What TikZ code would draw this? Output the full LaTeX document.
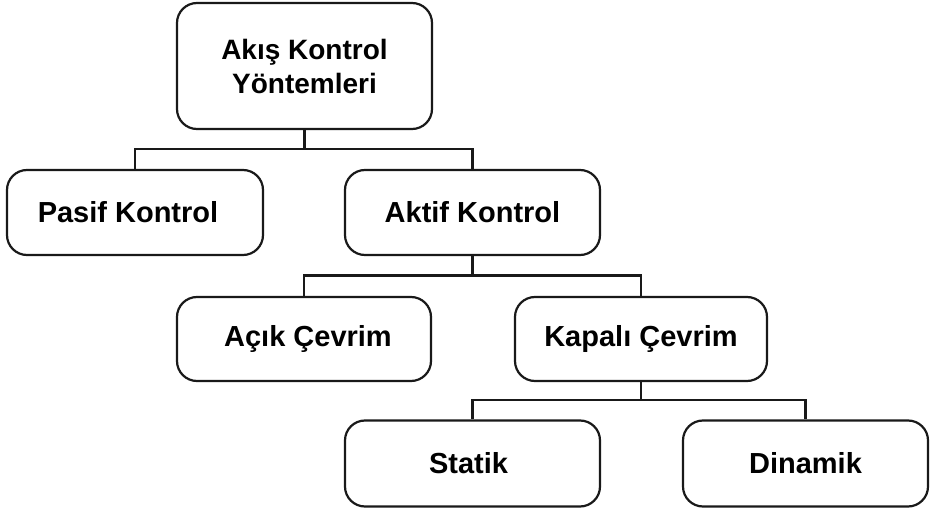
\documentclass[tikz,border=0pt]{standalone}
\usepackage{fontspec}
\setmainfont{Liberation Sans}
\begin{document}
\begin{tikzpicture}[x=1pt,y=-1pt,
  box/.style={draw=black!90, line width=2.2pt, rounded corners=20pt, align=center,
    inner sep=0pt, font=\bfseries\fontsize{29}{34}\selectfont},
  topbox/.style={box, font=\bfseries\fontsize{28}{34}\selectfont},
  conn/.style={draw=black!90, line width=2.2pt}]
\useasboundingbox (0,0) rectangle (930,513);
\node[topbox, minimum width=255pt, minimum height=126pt] (top) at (304.5,66) {\textbf{Akış Kontrol}\\\textbf{Yöntemleri}};
\node[box, minimum width=256pt, minimum height=85pt] (pasif) at (135,212.5) {\kern-14pt Pasif Kontrol};
\node[box, minimum width=255pt, minimum height=85pt] (aktif) at (472.5,212.5) {Aktif Kontrol};
\node[box, minimum width=254pt, minimum height=84pt] (acik) at (304,339) {\kern8pt Açık Çevrim};
\node[box, minimum width=252pt, minimum height=84pt] (kapali) at (641,339) {Kapalı Çevrim};
\node[box, minimum width=255pt, minimum height=86pt] (statik) at (472.5,463.5) {\kern-8pt Statik};
\node[box, minimum width=245pt, minimum height=86pt] (dinamik) at (805.5,463.5) {Dinamik};
\coordinate (j1) at (304.5,149);
\coordinate (j2) at (472.5,275.5);
\coordinate (j3) at (641,400);
\draw[conn] (top.south) -- (j1);
\draw[conn] (pasif.north) -- (pasif.north |- j1) -- (aktif.north |- j1) -- (aktif.north);
\draw[conn] (aktif.south) -- (j2);
\draw[conn] (acik.north) -- (acik.north |- j2) -- (kapali.north |- j2) -- (kapali.north);
\draw[conn] (kapali.south) -- (j3);
\draw[conn] (statik.north) -- (statik.north |- j3) -- (dinamik.north |- j3) -- (dinamik.north);
\end{tikzpicture}
\end{document}
